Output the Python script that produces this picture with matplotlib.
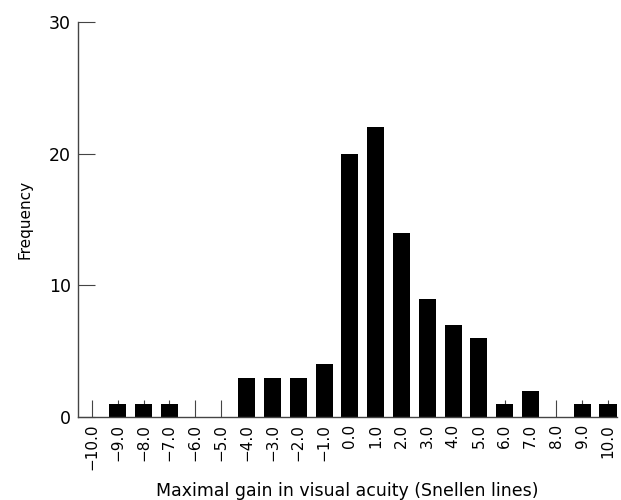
import matplotlib
matplotlib.use("Agg")
import matplotlib.pyplot as plt

categories = [-10, -9, -8, -7, -6, -5, -4, -3, -2, -1, 0, 1, 2, 3, 4, 5, 6, 7, 8, 9, 10]
frequency = [0, 1, 1, 1, 0, 0, 3, 3, 3, 4, 20, 22, 14, 9, 7, 6, 1, 2, 0, 1, 1]
tick_labels = [f"{c:.1f}".replace("-", "\u2212") for c in categories]
y_ticks = [0, 10, 20, 30]

plt.rcParams['font.family'] = ['DejaVu Sans']
fig = plt.figure(figsize=(6.21, 5.0), dpi=100)
ax = fig.add_axes([0.1256, 0.166, 0.868, 0.790])
ax.set_axisbelow(True)

ax.bar(categories, frequency, width=0.66, color='black', zorder=3)
ax.set_xlim(-10.54, 10.35)
ax.set_ylim(0, 30)
ax.set_xticks(categories)
ax.set_xticklabels(tick_labels, rotation=90, fontsize=11)
ax.set_yticks(y_ticks)
ax.set_yticklabels([str(t) for t in y_ticks], fontsize=12.5)
ax.tick_params(axis='both', direction='in', length=12, width=0.8, color='#444444')
ax.tick_params(axis='x', pad=5)
ax.tick_params(axis='y', pad=5)
for s in ['top', 'right']:
    ax.spines[s].set_visible(False)
for s in ['left', 'bottom']:
    ax.spines[s].set_color('#444444')
    ax.spines[s].set_linewidth(1.0)
    ax.spines[s].set_zorder(4)
ax.set_xlabel('Maximal gain in visual acuity (Snellen lines)', fontsize=12.5, labelpad=8)
ax.set_ylabel('Frequency', fontsize=11, labelpad=12)

fig.savefig('out.png', dpi=100)
